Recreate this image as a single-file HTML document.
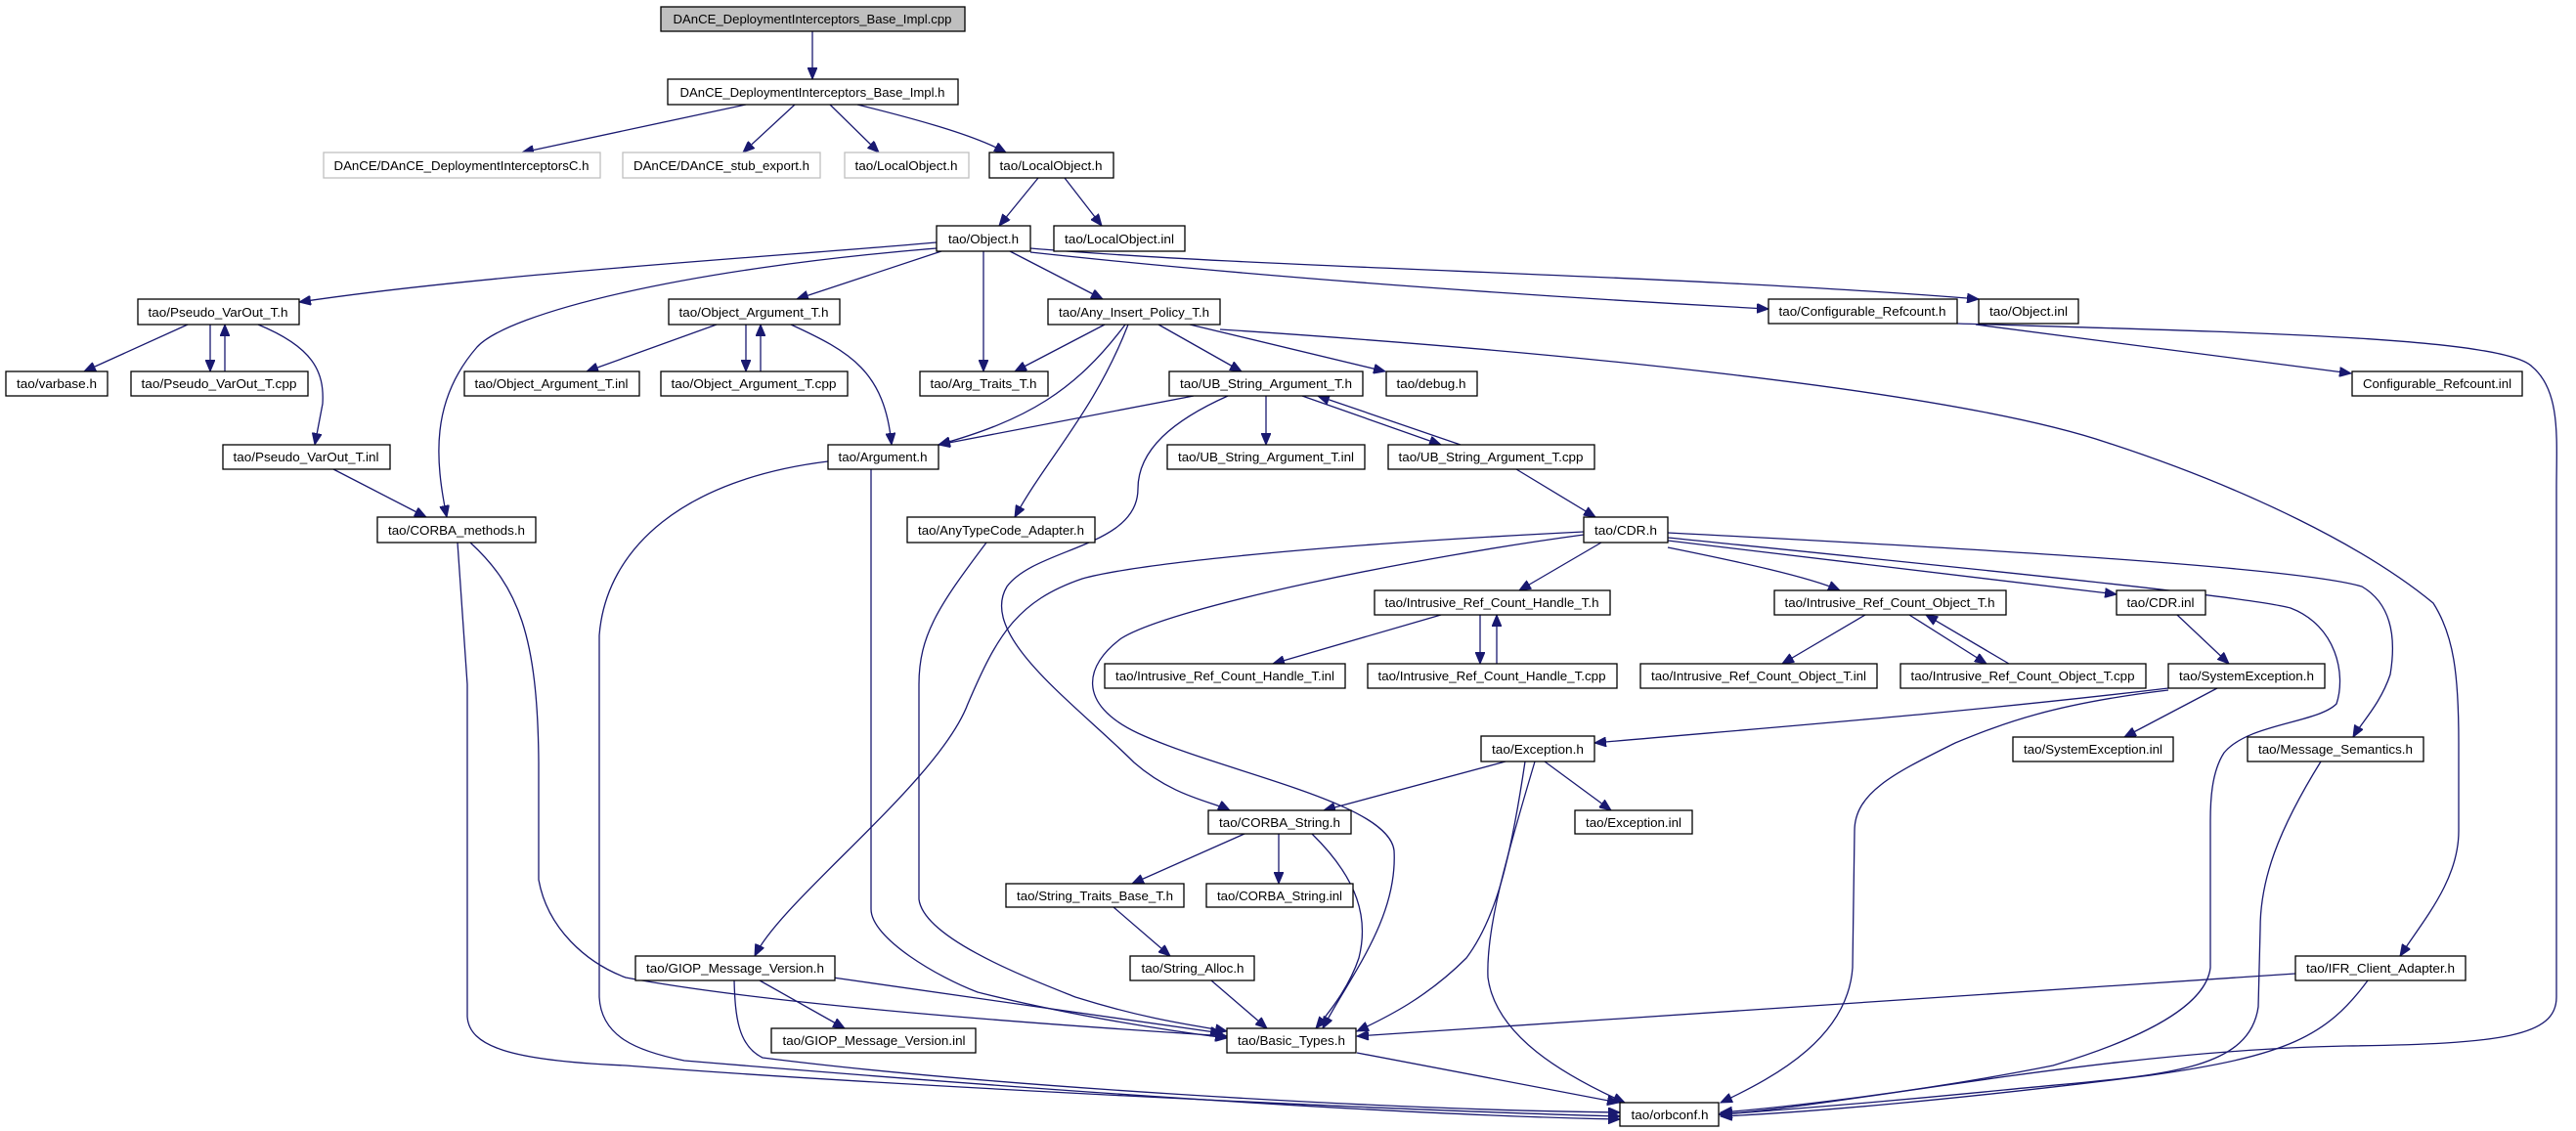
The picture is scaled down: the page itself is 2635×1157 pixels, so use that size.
<!DOCTYPE html>
<html><head><meta charset="utf-8"><style>
html,body{margin:0;padding:0;background:#fff}
svg{display:block}
text{font-family:"Liberation Sans",sans-serif;font-size:12.5px;fill:#000}
.e{fill:none;stroke:#191970;stroke-width:1.3}
.n{fill:#fff;stroke:#000;stroke-width:1.3}
.g{fill:#fff;stroke:#bfbfbf;stroke-width:1.3}
</style></head><body>
<svg width="2635" height="1157" viewBox="0 0 2635 1157" xmlns="http://www.w3.org/2000/svg">
<defs>
<marker id="a" markerUnits="userSpaceOnUse" markerWidth="14" markerHeight="10" refX="12" refY="5" orient="auto">
<path d="M0,0 L12,5 L0,10 Z" fill="#191970" stroke="#191970"/>
</marker>
</defs>
<g class="e" marker-end="url(#a)">
<path d="M831,32 L831,81"/>
<path d="M763,107 L534,156"/>
<path d="M813,107 L760,156"/>
<path d="M849,107 L899,156"/>
<path d="M877,107 C950,125 1000,140 1029,156"/>
<path d="M1062,182 L1022,231"/>
<path d="M1089,182 L1127,231"/>
<path d="M958,248 C800,262 500,280 306,309"/>
<path d="M958,254 C700,275 520,320 488,355 C440,410 445,470 457,529"/>
<path d="M963,257 L815,306"/>
<path d="M1006,257 L1006,380"/>
<path d="M1033,257 L1128,306"/>
<path d="M1054,258 C1300,285 1600,305 1809,316"/>
<path d="M1054,254 C1300,275 1700,280 2024,306"/>
<path d="M2021,332 L2405,382"/>
<path d="M2002,331 C2300,340 2560,345 2590,375 C2620,400 2615,450 2615,500 L2615,1020 C2615,1060 2560,1068 2400,1070 C2150,1075 1900,1130 1758,1140"/>
<path d="M192,332 L86,380"/>
<path d="M215,332 L215,380"/>
<path d="M230,380 L230,332"/>
<path d="M264,332 C320,355 332,380 330,413 L322,455"/>
<path d="M341,480 L436,529"/>
<path d="M733,332 L600,380"/>
<path d="M763,332 L763,380"/>
<path d="M778,380 L778,332"/>
<path d="M809,332 C870,360 905,380 912,455"/>
<path d="M1130,332 L1038,380"/>
<path d="M1151,332 C1100,400 1050,430 960,455"/>
<path d="M1154,332 C1120,420 1070,470 1038,529"/>
<path d="M1185,332 L1270,380"/>
<path d="M1217,332 L1417,380"/>
<path d="M1248,337 C1600,360 2000,400 2156,453 C2300,500 2420,560 2489,617 C2510,650 2515,690 2515,760 L2515,850 C2515,900 2480,940 2455,978"/>
<path d="M1221,405 L960,455"/>
<path d="M1295,405 L1295,455"/>
<path d="M1332,405 L1474,455"/>
<path d="M1494,455 L1348,405"/>
<path d="M1256,405 C1200,430 1164,460 1164,500 C1164,560 1060,560 1030,600 C1000,650 1100,720 1160,780 C1200,815 1240,820 1258,829"/>
<path d="M1551,480 L1632,529"/>
<path d="M468,555 L478,700 L478,1040 C480,1070 520,1085 640,1090 C900,1110 1400,1135 1657,1142"/>
<path d="M481,555 C530,600 550,650 551,780 L551,900 C560,950 600,985 640,1000 C800,1030 1100,1050 1255,1060"/>
<path d="M847,472 C700,490 620,560 613,650 L613,1020 C615,1060 650,1075 700,1085 C1000,1110 1400,1140 1657,1145"/>
<path d="M891,480 L891,930 C891,960 960,1000 1000,1015 C1100,1040 1200,1055 1255,1062"/>
<path d="M1009,555 C960,620 940,650 940,700 L940,920 C945,960 1050,1000 1100,1020 C1180,1045 1230,1050 1255,1055"/>
<path d="M1620,544 C1300,560 1150,580 1107,592 C1040,615 1020,650 990,720 C960,800 800,920 772,978"/>
<path d="M1620,547 C1450,570 1200,620 1147,653 C1110,680 1100,720 1164,750 C1250,790 1420,820 1426,870 C1430,940 1380,1000 1353,1052"/>
<path d="M1638,555 L1554,604"/>
<path d="M1706,560 C1780,575 1850,590 1882,604"/>
<path d="M1706,553 L2165,608"/>
<path d="M1706,545 C2000,560 2350,580 2416,600 C2450,620 2450,660 2445,690 C2435,720 2415,740 2407,754"/>
<path d="M1706,550 C2000,580 2300,610 2343,622 C2390,640 2400,690 2390,720 C2370,740 2300,740 2275,770 C2262,790 2261,820 2261,840 L2261,990 C2255,1040 2150,1075 2100,1090 C1950,1120 1800,1135 1760,1138"/>
<path d="M1474,629 L1302,679"/>
<path d="M1514,629 L1514,679"/>
<path d="M1531,679 L1531,629"/>
<path d="M1908,629 L1823,679"/>
<path d="M1953,629 L2032,679"/>
<path d="M2055,679 L1970,629"/>
<path d="M2227,629 L2280,679"/>
<path d="M2218,704 C2000,730 1800,745 1631,760"/>
<path d="M2268,704 L2173,754"/>
<path d="M2218,706 C2100,720 2049,740 2000,760 C1940,790 1897,810 1897,850 L1895,990 C1890,1060 1820,1100 1760,1128"/>
<path d="M2374,779 C2330,850 2312,900 2312,950 L2310,1030 C2300,1100 2200,1100 2050,1115 C1900,1130 1800,1137 1760,1140"/>
<path d="M2348,996 L1388,1060"/>
<path d="M2422,1003 C2380,1060 2340,1080 2200,1100 C2000,1125 1850,1138 1760,1142"/>
<path d="M1540,779 L1354,829"/>
<path d="M1580,779 L1648,829"/>
<path d="M1560,779 C1545,880 1530,940 1500,980 C1460,1020 1420,1040 1388,1055"/>
<path d="M1570,779 C1540,880 1520,950 1522,1000 C1530,1060 1600,1100 1662,1128"/>
<path d="M1273,853 L1158,904"/>
<path d="M1308,853 L1308,904"/>
<path d="M1342,853 C1390,900 1400,940 1390,980 C1380,1010 1360,1035 1346,1052"/>
<path d="M1139,928 L1197,978"/>
<path d="M1239,1003 L1296,1052"/>
<path d="M852,1000 L1250,1057"/>
<path d="M777,1003 L864,1052"/>
<path d="M751,1003 C752,1040 755,1070 780,1082 C1000,1110 1400,1135 1657,1138"/>
<path d="M1388,1077 L1656,1128"/>
</g>
<g>
<rect x="676" y="7" width="311" height="25" fill="#bfbfbf" stroke="#000" stroke-width="1.3"/><text x="831" y="24" text-anchor="middle" textLength="285" lengthAdjust="spacingAndGlyphs">DAnCE_DeploymentInterceptors_Base_Impl.cpp</text>
<rect class="n" x="683" y="81" width="297" height="26"/><text x="831" y="99" text-anchor="middle" textLength="271" lengthAdjust="spacingAndGlyphs">DAnCE_DeploymentInterceptors_Base_Impl.h</text>
<rect class="g" x="331" y="156" width="283" height="26"/><text x="472" y="174" text-anchor="middle" textLength="261" lengthAdjust="spacingAndGlyphs">DAnCE/DAnCE_DeploymentInterceptorsC.h</text>
<rect class="g" x="637" y="156" width="202" height="26"/><text x="738" y="174" text-anchor="middle" textLength="180" lengthAdjust="spacingAndGlyphs">DAnCE/DAnCE_stub_export.h</text>
<rect class="g" x="864" y="156" width="127" height="26"/><text x="927" y="174" text-anchor="middle" textLength="105" lengthAdjust="spacingAndGlyphs">tao/LocalObject.h</text>
<rect class="n" x="1012" y="156" width="127" height="26"/><text x="1075" y="174" text-anchor="middle" textLength="105" lengthAdjust="spacingAndGlyphs">tao/LocalObject.h</text>
<rect class="n" x="958" y="231" width="96" height="26"/><text x="1006" y="249" text-anchor="middle" textLength="72" lengthAdjust="spacingAndGlyphs">tao/Object.h</text>
<rect class="n" x="1078" y="231" width="134" height="26"/><text x="1145" y="249" text-anchor="middle" textLength="112" lengthAdjust="spacingAndGlyphs">tao/LocalObject.inl</text>
<rect class="n" x="141" y="306" width="165" height="26"/><text x="223" y="324" text-anchor="middle" textLength="143" lengthAdjust="spacingAndGlyphs">tao/Pseudo_VarOut_T.h</text>
<rect class="n" x="684" y="306" width="175" height="26"/><text x="771" y="324" text-anchor="middle" textLength="153" lengthAdjust="spacingAndGlyphs">tao/Object_Argument_T.h</text>
<rect class="n" x="1072" y="306" width="176" height="26"/><text x="1160" y="324" text-anchor="middle" textLength="154" lengthAdjust="spacingAndGlyphs">tao/Any_Insert_Policy_T.h</text>
<rect class="n" x="1809" y="306" width="193" height="25"/><text x="1905" y="323" text-anchor="middle" textLength="171" lengthAdjust="spacingAndGlyphs">tao/Configurable_Refcount.h</text>
<rect class="n" x="2024" y="306" width="102" height="25"/><text x="2075" y="323" text-anchor="middle" textLength="80" lengthAdjust="spacingAndGlyphs">tao/Object.inl</text>
<rect class="n" x="2406" y="380" width="174" height="25"/><text x="2493" y="397" text-anchor="middle" textLength="152" lengthAdjust="spacingAndGlyphs">Configurable_Refcount.inl</text>
<rect class="n" x="6" y="380" width="104" height="25"/><text x="58" y="397" text-anchor="middle" textLength="82" lengthAdjust="spacingAndGlyphs">tao/varbase.h</text>
<rect class="n" x="134" y="380" width="181" height="25"/><text x="224" y="397" text-anchor="middle" textLength="159" lengthAdjust="spacingAndGlyphs">tao/Pseudo_VarOut_T.cpp</text>
<rect class="n" x="475" y="380" width="179" height="25"/><text x="564" y="397" text-anchor="middle" textLength="157" lengthAdjust="spacingAndGlyphs">tao/Object_Argument_T.inl</text>
<rect class="n" x="676" y="380" width="191" height="25"/><text x="771" y="397" text-anchor="middle" textLength="169" lengthAdjust="spacingAndGlyphs">tao/Object_Argument_T.cpp</text>
<rect class="n" x="941" y="380" width="131" height="25"/><text x="1006" y="397" text-anchor="middle" textLength="109" lengthAdjust="spacingAndGlyphs">tao/Arg_Traits_T.h</text>
<rect class="n" x="1196" y="380" width="198" height="25"/><text x="1295" y="397" text-anchor="middle" textLength="176" lengthAdjust="spacingAndGlyphs">tao/UB_String_Argument_T.h</text>
<rect class="n" x="1418" y="380" width="93" height="25"/><text x="1464" y="397" text-anchor="middle" textLength="71" lengthAdjust="spacingAndGlyphs">tao/debug.h</text>
<rect class="n" x="228" y="455" width="171" height="25"/><text x="313" y="472" text-anchor="middle" textLength="149" lengthAdjust="spacingAndGlyphs">tao/Pseudo_VarOut_T.inl</text>
<rect class="n" x="847" y="455" width="113" height="25"/><text x="903" y="472" text-anchor="middle" textLength="91" lengthAdjust="spacingAndGlyphs">tao/Argument.h</text>
<rect class="n" x="1194" y="455" width="202" height="25"/><text x="1295" y="472" text-anchor="middle" textLength="180" lengthAdjust="spacingAndGlyphs">tao/UB_String_Argument_T.inl</text>
<rect class="n" x="1420" y="455" width="211" height="25"/><text x="1525" y="472" text-anchor="middle" textLength="189" lengthAdjust="spacingAndGlyphs">tao/UB_String_Argument_T.cpp</text>
<rect class="n" x="386" y="529" width="162" height="26"/><text x="467" y="547" text-anchor="middle" textLength="140" lengthAdjust="spacingAndGlyphs">tao/CORBA_methods.h</text>
<rect class="n" x="928" y="529" width="192" height="26"/><text x="1024" y="547" text-anchor="middle" textLength="170" lengthAdjust="spacingAndGlyphs">tao/AnyTypeCode_Adapter.h</text>
<rect class="n" x="1620" y="529" width="86" height="26"/><text x="1663" y="547" text-anchor="middle" textLength="64" lengthAdjust="spacingAndGlyphs">tao/CDR.h</text>
<rect class="n" x="1406" y="604" width="241" height="25"/><text x="1526" y="621" text-anchor="middle" textLength="219" lengthAdjust="spacingAndGlyphs">tao/Intrusive_Ref_Count_Handle_T.h</text>
<rect class="n" x="1815" y="604" width="237" height="25"/><text x="1933" y="621" text-anchor="middle" textLength="215" lengthAdjust="spacingAndGlyphs">tao/Intrusive_Ref_Count_Object_T.h</text>
<rect class="n" x="2165" y="604" width="91" height="25"/><text x="2210" y="621" text-anchor="middle" textLength="69" lengthAdjust="spacingAndGlyphs">tao/CDR.inl</text>
<rect class="n" x="1130" y="679" width="246" height="25"/><text x="1253" y="696" text-anchor="middle" textLength="224" lengthAdjust="spacingAndGlyphs">tao/Intrusive_Ref_Count_Handle_T.inl</text>
<rect class="n" x="1399" y="679" width="255" height="25"/><text x="1526" y="696" text-anchor="middle" textLength="233" lengthAdjust="spacingAndGlyphs">tao/Intrusive_Ref_Count_Handle_T.cpp</text>
<rect class="n" x="1678" y="679" width="242" height="25"/><text x="1799" y="696" text-anchor="middle" textLength="220" lengthAdjust="spacingAndGlyphs">tao/Intrusive_Ref_Count_Object_T.inl</text>
<rect class="n" x="1944" y="679" width="251" height="25"/><text x="2069" y="696" text-anchor="middle" textLength="229" lengthAdjust="spacingAndGlyphs">tao/Intrusive_Ref_Count_Object_T.cpp</text>
<rect class="n" x="2218" y="679" width="160" height="25"/><text x="2298" y="696" text-anchor="middle" textLength="138" lengthAdjust="spacingAndGlyphs">tao/SystemException.h</text>
<rect class="n" x="2059" y="754" width="164" height="25"/><text x="2141" y="771" text-anchor="middle" textLength="142" lengthAdjust="spacingAndGlyphs">tao/SystemException.inl</text>
<rect class="n" x="2299" y="754" width="180" height="25"/><text x="2389" y="771" text-anchor="middle" textLength="158" lengthAdjust="spacingAndGlyphs">tao/Message_Semantics.h</text>
<rect class="n" x="1515" y="753" width="116" height="26"/><text x="1573" y="771" text-anchor="middle" textLength="94" lengthAdjust="spacingAndGlyphs">tao/Exception.h</text>
<rect class="n" x="1236" y="829" width="146" height="24"/><text x="1309" y="846" text-anchor="middle" textLength="124" lengthAdjust="spacingAndGlyphs">tao/CORBA_String.h</text>
<rect class="n" x="1611" y="829" width="120" height="24"/><text x="1671" y="846" text-anchor="middle" textLength="98" lengthAdjust="spacingAndGlyphs">tao/Exception.inl</text>
<rect class="n" x="1029" y="904" width="182" height="24"/><text x="1120" y="921" text-anchor="middle" textLength="160" lengthAdjust="spacingAndGlyphs">tao/String_Traits_Base_T.h</text>
<rect class="n" x="1234" y="904" width="150" height="24"/><text x="1309" y="921" text-anchor="middle" textLength="128" lengthAdjust="spacingAndGlyphs">tao/CORBA_String.inl</text>
<rect class="n" x="1156" y="978" width="127" height="25"/><text x="1220" y="995" text-anchor="middle" textLength="105" lengthAdjust="spacingAndGlyphs">tao/String_Alloc.h</text>
<rect class="n" x="650" y="978" width="204" height="25"/><text x="752" y="995" text-anchor="middle" textLength="182" lengthAdjust="spacingAndGlyphs">tao/GIOP_Message_Version.h</text>
<rect class="n" x="2348" y="978" width="174" height="25"/><text x="2435" y="995" text-anchor="middle" textLength="152" lengthAdjust="spacingAndGlyphs">tao/IFR_Client_Adapter.h</text>
<rect class="n" x="789" y="1052" width="209" height="25"/><text x="894" y="1069" text-anchor="middle" textLength="187" lengthAdjust="spacingAndGlyphs">tao/GIOP_Message_Version.inl</text>
<rect class="n" x="1255" y="1052" width="132" height="25"/><text x="1321" y="1069" text-anchor="middle" textLength="110" lengthAdjust="spacingAndGlyphs">tao/Basic_Types.h</text>
<rect class="n" x="1657" y="1128" width="101" height="24"/><text x="1708" y="1145" text-anchor="middle" textLength="79" lengthAdjust="spacingAndGlyphs">tao/orbconf.h</text>
</g>
</svg>
</body></html>
